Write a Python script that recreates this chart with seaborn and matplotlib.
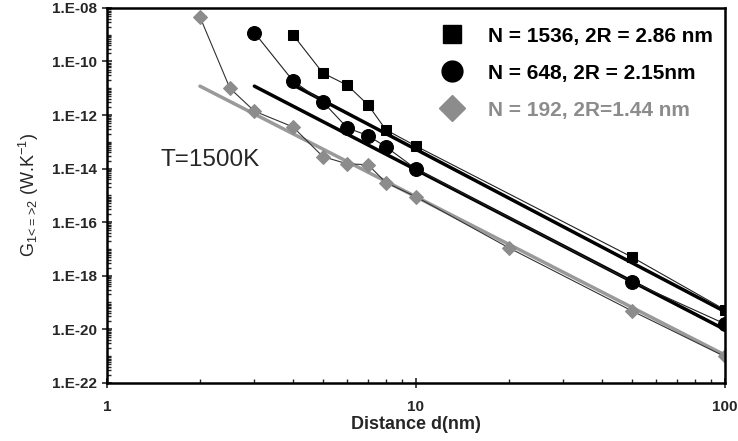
import seaborn as sns
import matplotlib.pyplot as plt
import matplotlib.ticker as mticker
from matplotlib.lines import Line2D
import numpy as np

d_1536 = [4, 5, 6, 7, 8, 10, 50, 100]
g_1536 = [1.0e-9, 3.7e-11, 1.3e-11, 2.4e-12, 2.8e-13, 7.0e-14, 5.0e-18, 5.4e-20]

d_648 = [3, 4, 5, 6, 7, 8, 10, 50, 100]
g_648 = [1.2e-9, 1.9e-11, 3.1e-12, 3.3e-13, 1.7e-13, 6.5e-14, 9.8e-15, 6.0e-19, 1.6e-20]

d_192 = [2, 2.5, 3, 4, 5, 6, 7, 8, 10, 20, 50, 100]
g_192 = [4.6e-9, 1.0e-11, 1.4e-12, 3.6e-13, 2.8e-14, 1.5e-14, 1.4e-14, 3.0e-15,
         8.9e-16, 1.1e-17, 4.9e-20, 9.6e-22]

# Power-law fit lines (end points)
fit_x_1536 = [4, 100]
fit_y_1536 = [1.35e-11, 4.6e-20]
fit_x_648 = [3, 100]
fit_y_648 = [1.2e-11, 9.8e-21]
fit_x_192 = [2, 100]
fit_y_192 = [1.2e-11, 1.1e-21]

labels = ['N = 1536, 2R = 2.86 nm', 'N = 648, 2R = 2.15nm', 'N = 192, 2R=1.44 nm']

sns.set_style("ticks")
plt.rcParams['font.family'] = ['Liberation Sans', 'DejaVu Sans']
plt.rcParams['mathtext.fontset'] = 'custom'
plt.rcParams['mathtext.rm'] = 'Liberation Sans'

fig = plt.figure(figsize=(7.38, 4.41), dpi=100)
ax = fig.add_axes([0.145, 0.132, 0.837, 0.850])
ax.set(xscale='log', yscale='log')

gray = '#8c8c8c'
fit_gray = '#9a9a9a'

# fit lines
sns.lineplot(x=fit_x_192, y=fit_y_192, color=fit_gray, lw=2.5, ax=ax)
sns.lineplot(x=fit_x_648, y=fit_y_648, color='black', lw=2.5, ax=ax)
sns.lineplot(x=fit_x_1536, y=fit_y_1536, color='black', lw=2.5, ax=ax)

# data series
sns.lineplot(x=d_192, y=g_192, color='#333333', lw=0.8, marker='D', markersize=7,
             markerfacecolor=gray, markeredgecolor=gray, ax=ax)
sns.lineplot(x=d_648, y=g_648, color='#222222', lw=0.8, marker='o', markersize=10,
             markerfacecolor='black', markeredgecolor='black', ax=ax)
sns.lineplot(x=d_1536, y=g_1536, color='#222222', lw=0.8, marker='s', markersize=7,
             markerfacecolor='black', markeredgecolor='black', ax=ax)

ax.set_xlim(1, 100)
ax.set_ylim(1e-22, 1e-8)

ax.xaxis.set_major_locator(mticker.FixedLocator([1, 10, 100]))
ax.xaxis.set_major_formatter(mticker.FixedFormatter(['1', '10', '100']))
ax.xaxis.set_minor_locator(mticker.LogLocator(base=10, subs=np.arange(2, 10)))
ax.xaxis.set_minor_formatter(mticker.NullFormatter())

yt = [10.0 ** e for e in range(-22, -7, 2)]
ax.yaxis.set_major_locator(mticker.FixedLocator(yt))
ax.yaxis.set_major_formatter(mticker.FixedFormatter(['1.E-%02d' % -e for e in range(-22, -7, 2)]))
ax.yaxis.set_minor_locator(mticker.LogLocator(base=10, subs=np.arange(1, 10), numticks=40))
ax.yaxis.set_minor_formatter(mticker.NullFormatter())

ax.tick_params(axis='both', which='major', direction='inout', length=7, width=1.2,
               labelsize=11)
ax.tick_params(axis='x', which='major', pad=9)
ax.tick_params(axis='both', which='minor', direction='in', length=3, width=1)
for lab in ax.get_xticklabels() + ax.get_yticklabels():
    lab.set_fontweight('bold')

for s in ax.spines.values():
    s.set_linewidth(1.8)
    s.set_color('black')

ax.set_xlabel('Distance d(nm)', fontsize=13, fontweight='bold', labelpad=1)
ax.set_ylabel(r'G$_{\mathregular{1\!<\!=\!>\!2}}$ (W.K$^{\mathregular{-1}}$)', fontsize=13, labelpad=8)

ax.text(0.086, 0.595, 'T=1500K', transform=ax.transAxes, fontsize=17.5,
        ha='left', va='center')

handles = [
    Line2D([], [], ls='none', marker='s', markersize=13, color='black'),
    Line2D([], [], ls='none', marker='o', markersize=15, color='black'),
    Line2D([], [], ls='none', marker='D', markersize=13, color=gray),
]
leg = ax.legend(handles, labels, loc='upper right', bbox_to_anchor=(0.995, 0.972),
                frameon=False, labelcolor=['black', 'black', gray],
                prop={'weight': 'bold', 'size': 15}, handletextpad=0.75,
                labelspacing=0.86, borderaxespad=0.0)

fig.savefig('out.png', dpi=100)
